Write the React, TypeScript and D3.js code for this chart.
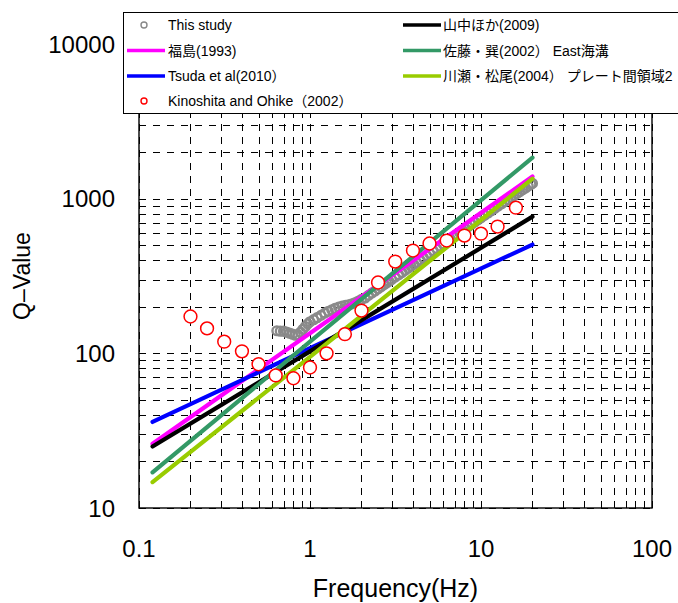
import { useEffect, useRef } from "react";
import * as d3 from "d3";

const W = 678;
const H = 603;

// This study (gray open circles)
const STUDY_F = [
  0.64, 0.67, 0.7, 0.73, 0.76, 0.79, 0.82, 0.85, 0.88, 0.91, 0.94, 0.97, 1.0,
  1.05, 1.1, 1.16, 1.22, 1.28, 1.34, 1.4, 1.47, 1.54, 1.61, 1.68, 1.76, 1.84, 1.92, 2.0,
  2.1, 2.2, 2.3, 2.4, 2.5, 2.6, 2.7, 2.8, 2.9, 3.0, 3.15, 3.3, 3.45, 3.6, 3.75, 3.9,
  4.05, 4.2, 4.4, 4.6, 4.8, 5.0, 5.25, 5.5, 5.75, 6.0, 6.3, 6.6, 6.9, 7.2, 7.5, 7.8,
  8.1, 8.4, 8.8, 9.2, 9.6, 10, 10.5, 11, 11.5, 12, 12.6, 13.2, 13.8, 14.4, 15, 15.6,
  16.2, 16.8, 17.5, 18.2, 18.9, 19.6, 20,
];
const STUDY_Q = [
  140, 139, 139, 137, 135, 133, 131, 132, 137, 143, 149, 155, 160,
  165, 170, 176, 182, 187, 191, 195, 199, 202, 204, 206, 209, 213, 218, 223,
  228, 237, 245, 253, 261, 269, 277, 285, 292, 300, 311, 322, 333, 344, 355, 366,
  376, 387, 401, 415, 429, 443, 460, 477, 493, 510, 530, 549, 567, 586, 604, 623,
  641, 659, 683, 706, 729, 752, 780, 808, 836, 864, 896, 927, 958, 989, 1019, 1049,
  1079, 1108, 1141, 1173, 1205, 1237, 1255,
];

// Kinoshita and Ohike (2002)
const KO_F = [0.2, 0.25, 0.315, 0.4, 0.5, 0.63, 0.8, 1, 1.25, 1.6, 2, 2.5, 3.15, 4, 5, 6.3, 8, 10, 12.5, 16];
const KO_Q = [173, 145, 119, 103, 85, 72, 69, 81, 100, 133, 189, 287, 392, 462, 513, 536, 577, 594, 660, 875];

// Q(f) relations, read at 0.12, 1 and 20 Hz
const LINE_F = [0.12, 1, 20];
const FUKUSHIMA_Q = [26, 135, 1390];
const TSUDA_Q = [36, 108, 505];
const YAMANAKA_Q = [25, 103, 765];
const SATO_Q = [17, 119, 1842];
const KAWASE_Q = [14.7, 95, 1346];

const X_LABELS = [0.1, 1, 10, 100];
const Y_LABELS = [10, 100, 1000, 10000];

const FONT = '"Liberation Sans", Arial, "Noto Sans CJK JP", sans-serif';

export default function App() {
  const svgRef = useRef<SVGSVGElement | null>(null);

  useEffect(() => {
    const svg = d3.select(svgRef.current);
    svg.selectAll("*").remove();

    const left = 139, right = 652, top = 44, bottom = 508;
    const x = d3.scaleLog().domain([0.1, 100]).range([left, right]);
    const y = d3.scaleLog().domain([10, 10000]).range([bottom, top]);

    svg.append("rect").attr("width", W).attr("height", H).attr("fill", "#fff");

    // --- dashed grid at every major and minor tick ---
    const grid = svg.append("g").attr("stroke", "#000").attr("stroke-width", 1);
    x.ticks().forEach((t) => {
      const px = Math.round(x(t)) + 0.5;
      grid.append("line")
        .attr("x1", px).attr("x2", px)
        .attr("y1", bottom).attr("y2", top)
        .attr("stroke-dasharray", "7,6");
    });
    y.ticks().forEach((t) => {
      const py = Math.round(y(t)) + 0.5;
      grid.append("line")
        .attr("x1", left).attr("x2", right)
        .attr("y1", py).attr("y2", py)
        .attr("stroke-dasharray", "7,7");
    });

    // inner ticks
    const majorsX = new Set(X_LABELS);
    x.ticks().forEach((t) => {
      const px = Math.round(x(t)) + 0.5;
      grid.append("line")
        .attr("x1", px).attr("x2", px)
        .attr("y1", bottom).attr("y2", bottom - (majorsX.has(t) ? 7 : 4));
    });
    const majorsY = new Set(Y_LABELS);
    y.ticks().forEach((t) => {
      const py = Math.round(y(t)) + 0.5;
      grid.append("line")
        .attr("x1", left).attr("x2", left + (majorsY.has(t) ? 7 : 4))
        .attr("y1", py).attr("y2", py);
    });

    // frame
    svg.append("rect")
      .attr("x", left).attr("y", top)
      .attr("width", right - left).attr("height", bottom - top)
      .attr("fill", "none").attr("stroke", "#000").attr("stroke-width", 1.4);

    // --- this study ---
    svg.append("g")
      .selectAll("circle")
      .data(STUDY_F.map((f, i) => [f, STUDY_Q[i]]))
      .join("circle")
      .attr("cx", (d) => x(d[0]))
      .attr("cy", (d) => y(d[1]))
      .attr("r", 4.4)
      .attr("fill", "none")
      .attr("stroke", "#8a8a8a")
      .attr("stroke-width", 2.4);

    // --- Q(f) lines ---
    const line = d3.line<number[]>().x((d) => x(d[0])).y((d) => y(d[1]));
    const lines: [number[], string][] = [
      [FUKUSHIMA_Q, "#ff00ff"],
      [TSUDA_Q, "#0000ff"],
      [YAMANAKA_Q, "#000000"],
      [SATO_Q, "#339966"],
      [KAWASE_Q, "#99cc00"],
    ];
    lines.forEach(([qs, color]) => {
      svg.append("path")
        .attr("d", line(LINE_F.map((f, i) => [f, qs[i]])))
        .attr("fill", "none")
        .attr("stroke", color)
        .attr("stroke-width", 4.2)
        .attr("stroke-linecap", "round");
    });

    // --- Kinoshita and Ohike ---
    svg.append("g")
      .selectAll("circle")
      .data(KO_F.map((f, i) => [f, KO_Q[i]]))
      .join("circle")
      .attr("cx", (d) => x(d[0]))
      .attr("cy", (d) => y(d[1]))
      .attr("r", 6.4)
      .attr("fill", "#fff")
      .attr("stroke", "#ff0000")
      .attr("stroke-width", 1.5);

    // --- tick labels ---
    X_LABELS.forEach((t) => {
      svg.append("text")
        .attr("x", x(t)).attr("y", 557)
        .attr("text-anchor", "middle")
        .attr("font-family", FONT).attr("font-size", 24)
        .text(String(t));
    });
    Y_LABELS.forEach((t) => {
      svg.append("text")
        .attr("x", 115).attr("y", y(t))
        .attr("dy", "0.36em")
        .attr("text-anchor", "end")
        .attr("font-family", FONT).attr("font-size", 24)
        .text(String(t));
    });

    // axis titles
    svg.append("text")
      .attr("x", (left + right) / 2).attr("y", 597)
      .attr("text-anchor", "middle")
      .attr("font-family", FONT).attr("font-size", 25)
      .text("Frequency(Hz)");
    svg.append("text")
      .attr("transform", `translate(30,${(top + bottom) / 2}) rotate(-90)`)
      .attr("text-anchor", "middle")
      .attr("font-family", FONT).attr("font-size", 23)
      .text("Q–Value");

    // --- legend (sits on top of the upper part of the plot) ---
    const lg = svg.append("g");
    lg.append("rect")
      .attr("x", 123.5).attr("y", 12.5)
      .attr("width", 620).attr("height", 101)
      .attr("fill", "#fff").attr("stroke", "#000").attr("stroke-width", 1);

    const rows = [25, 50.5, 76, 101];
    const items = [
      { col: 0, row: 0, kind: "dot", color: "#888", label: "This study" },
      { col: 0, row: 1, kind: "line", color: "#ff00ff", label: "福島(1993)" },
      { col: 0, row: 2, kind: "line", color: "#0000ff", label: "Tsuda et al(2010）" },
      { col: 0, row: 3, kind: "dot", color: "#ff0000", label: "Kinoshita and Ohike（2002）" },
      { col: 1, row: 0, kind: "line", color: "#000000", label: "山中ほか(2009)" },
      { col: 1, row: 1, kind: "line", color: "#339966", label: "佐藤・巽(2002） East海溝" },
      { col: 1, row: 2, kind: "line", color: "#99cc00", label: "川瀬・松尾(2004） プレート間領域2" },
    ];
    items.forEach((it) => {
      const x0 = it.col === 0 ? 127 : 403;
      const yy = rows[it.row];
      if (it.kind === "line") {
        lg.append("line")
          .attr("x1", x0).attr("x2", x0 + 38)
          .attr("y1", yy).attr("y2", yy)
          .attr("stroke", it.color).attr("stroke-width", 3.5);
      } else {
        lg.append("circle")
          .attr("cx", 144).attr("cy", yy).attr("r", 3)
          .attr("fill", "#fff").attr("stroke", it.color).attr("stroke-width", 1.4);
      }
      lg.append("text")
        .attr("x", it.col === 0 ? 168 : 443).attr("y", yy)
        .attr("dy", "0.36em")
        .attr("font-family", FONT).attr("font-size", 14)
        .text(it.label);
    });
  }, []);

  return (
    <div style={{ position: "absolute", left: 0, top: 0 }}>
      <svg ref={svgRef} width={W} height={H} />
    </div>
  );
}
